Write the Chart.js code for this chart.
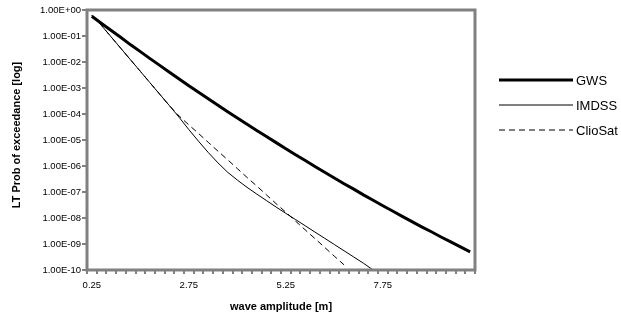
<!doctype html>
<html>
<head>
<meta charset="utf-8">
<title>LT Prob of exceedance</title>
<script src="https://cdn.jsdelivr.net/npm/chart.js@4.4.1/dist/chart.umd.min.js"></script>
<style>
  html, body { margin: 0; padding: 0; background: #fff; }
  #wrap { position: relative; width: 621px; height: 322px; }
</style>
</head>
<body>
<div id="wrap"><canvas id="chart"></canvas></div>
<script>
// wave amplitude categories [m]
var categories = [
  '0.25', '0.50', '0.75', '1.00', '1.25', '1.50', '1.75', '2.00', '2.25', '2.50',
  '2.75', '3.00', '3.25', '3.50', '3.75', '4.00', '4.25', '4.50', '4.75', '5.00',
  '5.25', '5.50', '5.75', '6.00', '6.25', '6.50', '6.75', '7.00', '7.25', '7.50',
  '7.75', '8.00', '8.25', '8.50', '8.75', '9.00', '9.25', '9.50', '9.75', '10.00'
];

var gws = [
  5.75e-1, 3.02e-1, 1.62e-1, 8.71e-2, 4.57e-2, 2.51e-2, 1.35e-2, 7.41e-3, 4.07e-3, 2.24e-3,
  1.23e-3, 6.92e-4, 3.89e-4, 2.19e-4, 1.23e-4, 7.08e-5, 4.07e-5, 2.34e-5, 1.35e-5, 7.94e-6,
  4.57e-6, 2.69e-6, 1.62e-6, 9.55e-7, 5.75e-7, 3.47e-7, 2.09e-7, 1.29e-7, 7.76e-8, 4.79e-8,
  2.95e-8, 1.86e-8, 1.15e-8, 7.24e-9, 4.57e-9, 2.95e-9, 1.86e-9, 1.20e-9, 7.76e-10, 5.01e-10
];

var imdss = [
  6.31e-1, 2.51e-1, 9.12e-2, 3.31e-2, 1.20e-2, 4.37e-3, 1.58e-3, 5.75e-4, 2.09e-4, 7.41e-5,
  2.51e-5, 8.91e-6, 3.31e-6, 1.32e-6, 5.75e-7, 2.88e-7, 1.51e-7, 8.32e-8, 4.68e-8, 2.63e-8,
  1.51e-8, 8.71e-9, 5.01e-9, 2.88e-9, 1.66e-9, 9.55e-10, 5.50e-10, 3.16e-10, 1.82e-10, 1.00e-10
];

var cliosat = [
  6.31e-1, 2.51e-1, 9.12e-2, 3.31e-2, 1.20e-2, 4.37e-3, 1.58e-3, 5.75e-4, 2.09e-4, 8.32e-5,
  3.80e-5, 1.78e-5, 8.13e-6, 3.72e-6, 1.74e-6, 7.94e-7, 3.63e-7, 1.70e-7, 7.76e-8, 3.55e-8,
  1.66e-8, 7.59e-9, 3.47e-9, 1.62e-9, 7.41e-10, 3.39e-10, 1.58e-10
];

var yTicks = [1e0, 1e-1, 1e-2, 1e-3, 1e-4, 1e-5, 1e-6, 1e-7, 1e-8, 1e-9, 1e-10];

var yTitle = 'LT Prob of exceedance [log]';
var xTitle = 'wave amplitude [m]';

var FONT = "Arial, 'Liberation Sans', sans-serif";
var GRAY = '#808080';

function sciLabel(v) {
  var e = Math.round(Math.log10(v));
  var a = Math.abs(e);
  return '1.00E' + (e < 0 ? '-' : '+') + (a < 10 ? '0' : '') + a;
}

// gray frame round the plot area
var framePlugin = {
  id: 'frame',
  afterDatasetsDraw: function(chart) {
    var a = chart.chartArea, ctx = chart.ctx;
    ctx.save();
    ctx.strokeStyle = GRAY;
    ctx.lineWidth = 3;
    ctx.strokeRect(a.left, a.top, a.right - a.left, a.bottom - a.top);
    ctx.restore();
  }
};

// rotated y title, sits a bit above the middle of the axis like the original
var yTitlePlugin = {
  id: 'yTitle',
  afterDraw: function(chart) {
    var ctx = chart.ctx;
    ctx.save();
    ctx.translate(17, 135);
    ctx.rotate(-Math.PI / 2);
    ctx.fillStyle = '#000';
    ctx.font = 'bold 11px ' + FONT;
    ctx.textAlign = 'center';
    ctx.textBaseline = 'middle';
    ctx.fillText(yTitle, 0, 0);
    ctx.restore();
  }
};

// legend on the right, drawn like the spreadsheet one
var legendPlugin = {
  id: 'sideLegend',
  afterDraw: function(chart) {
    var ctx = chart.ctx;
    var x0 = 499, x1 = 573, tx = 576, y = 80, step = 25;
    ctx.save();
    chart.data.datasets.forEach(function(ds, i) {
      var yy = y + i * step;
      ctx.beginPath();
      ctx.strokeStyle = ds.borderColor;
      ctx.lineWidth = ds.borderWidth;
      ctx.setLineDash(ds.borderDash || []);
      ctx.moveTo(x0, yy);
      ctx.lineTo(x1, yy);
      ctx.stroke();
      ctx.setLineDash([]);
      ctx.fillStyle = '#000';
      ctx.font = '13px ' + FONT;
      ctx.textBaseline = 'middle';
      ctx.fillText(ds.label, tx, yy + 1.5);
    });
    ctx.restore();
  }
};

new Chart(document.getElementById('chart'), {
  type: 'line',
  data: {
    labels: categories,
    datasets: [
      { label: 'GWS', data: gws, borderColor: '#000', borderWidth: 3, pointRadius: 0, fill: false },
      { label: 'IMDSS', data: imdss, borderColor: '#000', borderWidth: 1, pointRadius: 0, fill: false },
      { label: 'ClioSat', data: cliosat, borderColor: '#000', borderWidth: 1, borderDash: [6, 4], pointRadius: 0, fill: false }
    ]
  },
  options: {
    responsive: true,
    maintainAspectRatio: false,
    animation: false,
    layout: { padding: { left: 0, top: 10, right: 146, bottom: 0 } },
    plugins: {
      legend: { display: false },
      tooltip: { enabled: false }
    },
    scales: {
      x: {
        type: 'category',
        offset: true,
        afterFit: function(scale) { scale.height = 52; },
        grid: { offset: true, drawOnChartArea: false, drawTicks: true, tickLength: 4, color: GRAY, lineWidth: 2 },
        border: { display: false },
        ticks: {
          autoSkip: false,
          maxRotation: 0,
          padding: 6,
          color: '#000',
          font: { family: FONT, size: 9.5 },
          callback: function(v, i) { return i % 10 === 0 ? categories[i] : ''; }
        },
        title: {
          display: true,
          text: xTitle,
          color: '#000',
          font: { family: FONT, size: 11, weight: 'bold' },
          padding: { top: 0, bottom: 8 }
        }
      },
      y: {
        type: 'logarithmic',
        min: 1e-10,
        max: 1,
        afterFit: function(scale) { scale.width = 87; },
        afterBuildTicks: function(scale) {
          scale.ticks = yTicks.map(function(v) { return { value: v }; });
        },
        grid: { drawOnChartArea: false, drawTicks: true, tickLength: 5, color: GRAY, lineWidth: 2 },
        border: { display: false },
        ticks: {
          padding: 1,
          color: '#000',
          font: { family: FONT, size: 9.5 },
          callback: function(v) { return sciLabel(v); }
        },
        title: { display: false }
      }
    }
  },
  plugins: [framePlugin, yTitlePlugin, legendPlugin]
});
</script>
</body>
</html>
